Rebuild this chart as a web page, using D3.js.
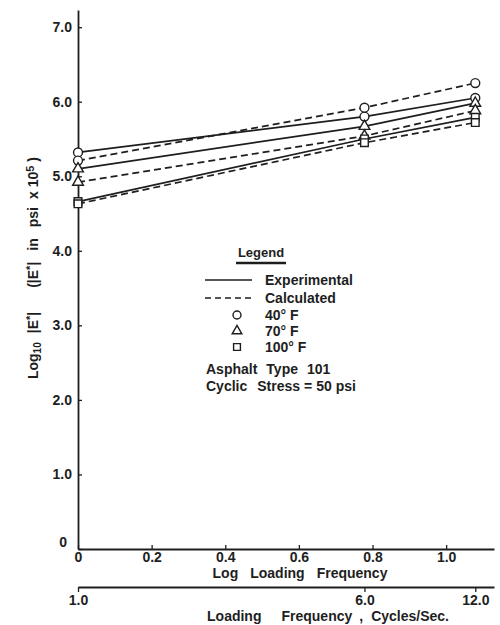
<!DOCTYPE html>
<html><head><meta charset="utf-8">
<script src="https://cdn.jsdelivr.net/npm/d3@7"></script>
<style>
body{margin:0;background:#fff}
text{font-family:"Liberation Sans",Arial,sans-serif;font-weight:bold;fill:#1e1e1e}
</style>
</head><body><svg id="c" width="500" height="625"></svg>
<script>
// Data
const frequencies = [1, 6, 12];               // cycles/sec
const temperatures = ["40°F", "70°F", "100°F"];
const experimental40 = [5.32, 5.80, 6.05];
const experimental70 = [5.10, 5.67, 5.98];
const experimental100 = [4.66, 5.50, 5.79];
const calculated40 = [5.21, 5.92, 6.25];
const calculated70 = [4.92, 5.54, 5.88];
const calculated100 = [4.63, 5.45, 5.72];
const yTicks = [0, 1, 2, 3, 4, 5, 6, 7];
const logTicks = [0, 0.2, 0.4, 0.6, 0.8, 1.0];
const freqTicks = [1, 6, 12];

const series = [
  {temp: temperatures[0], kind: "exp", values: experimental40},
  {temp: temperatures[0], kind: "calc", values: calculated40},
  {temp: temperatures[1], kind: "exp", values: experimental70},
  {temp: temperatures[1], kind: "calc", values: calculated70},
  {temp: temperatures[2], kind: "exp", values: experimental100},
  {temp: temperatures[2], kind: "calc", values: calculated100}
];

const svg = d3.select("#c");
const ink = "#1e1e1e";
const x = d3.scaleLinear().domain([0, 1.13]).range([78, 494]);
const y = d3.scaleLinear().domain([0, 7.23]).range([549, 10]);
const f = d3.scaleLog().domain([1, Math.pow(10, 1.13)]).range([78, 494]);

function styleAxis(g, w) {
  g.selectAll("path.domain").attr("stroke", ink).attr("stroke-width", w);
  g.selectAll(".tick line").attr("stroke", ink).attr("stroke-width", 1.3);
  g.selectAll(".tick text").attr("fill", ink).style("font-size", "14px")
    .style("font-family", '"Liberation Sans",Arial,sans-serif').style("font-weight", "bold");
}

// Y axis
const gy = svg.append("g").attr("transform", "translate(78,0)")
  .call(d3.axisLeft(y).tickValues(yTicks).tickSizeInner(-4).tickSizeOuter(0).tickPadding(6)
    .tickFormat(d => d === 0 ? "0" : d.toFixed(1)));
styleAxis(gy, 1.8);
gy.selectAll(".tick text").filter(d => d === 0).attr("dy", "-0.15em").attr("x", -11);

// X axis (log frequency)
const gx = svg.append("g").attr("transform", "translate(0,549)")
  .call(d3.axisBottom(x).tickValues(logTicks).tickSizeInner(-4).tickSizeOuter(0).tickPadding(3)
    .tickFormat(d => d === 0 ? "0" : d.toFixed(1)));
styleAxis(gx, 1.8);

// Second x axis (frequency)
const gf = svg.append("g").attr("transform", "translate(0,587)")
  .call(d3.axisBottom(f).tickValues(freqTicks).tickSizeInner(5).tickSizeOuter(0).tickPadding(3)
    .tickFormat(d => d.toFixed(1)));
styleAxis(gf, 1.8);

// Lines
const line = d3.line().x((d, i) => x(Math.log10(frequencies[i]))).y(d => y(d));
svg.append("g").selectAll("path").data(series).join("path")
  .attr("d", d => line(d.values))
  .attr("fill", "none").attr("stroke", ink).attr("stroke-width", 1.7)
  .attr("stroke-dasharray", d => d.kind === "calc" ? "7,4" : null);

// Markers
const symbolFor = {"40°F": d3.symbolCircle, "70°F": d3.symbolTriangle, "100°F": d3.symbolSquare};
const sizeFor = {"40°F": 62, "70°F": 50, "100°F": 58};
const pts = series.flatMap(s => s.values.map((v, i) => ({temp: s.temp, f: frequencies[i], v})));
svg.append("g").selectAll("path").data(pts).join("path")
  .attr("transform", d => `translate(${x(Math.log10(d.f))},${y(d.v)})`)
  .attr("d", d => d3.symbol().type(symbolFor[d.temp]).size(sizeFor[d.temp])())
  .attr("fill", "#fff").attr("stroke", ink).attr("stroke-width", 1.4);

// Axis titles
const xt = svg.append("text").attr("x", 300).attr("y", 578).attr("text-anchor", "middle").style("font-size", "14px");
xt.append("tspan").text("Log");
xt.append("tspan").attr("dx", 12).text("Loading");
xt.append("tspan").attr("dx", 12).text("Frequency");

const ft = svg.append("text").attr("x", 328).attr("y", 621).attr("text-anchor", "middle").style("font-size", "14px");
ft.append("tspan").text("Loading");
ft.append("tspan").attr("dx", 20).text("Frequency");
ft.append("tspan").attr("dx", 8).text(",");
ft.append("tspan").attr("dx", 8).text("Cycles/Sec.");

const yt = svg.append("text").attr("transform", "translate(38,268) rotate(-90)")
  .attr("text-anchor", "middle").style("font-size", "14px");
yt.append("tspan").text("Log");
yt.append("tspan").attr("baseline-shift", "-25%").style("font-size", "10px").text("10");
yt.append("tspan").attr("dx", 9).text("|E");
yt.append("tspan").attr("baseline-shift", "35%").style("font-size", "11px").text("*");
yt.append("tspan").text("|");
yt.append("tspan").attr("dx", 24).text("(|E");
yt.append("tspan").attr("baseline-shift", "35%").style("font-size", "11px").text("*");
yt.append("tspan").text("|");
yt.append("tspan").attr("dx", 11).text("in");
yt.append("tspan").attr("dx", 11).text("psi");
yt.append("tspan").attr("dx", 8).text("x 10");
yt.append("tspan").attr("baseline-shift", "40%").style("font-size", "11px").text("5");
yt.append("tspan").attr("dx", 4).text(")");

// Legend
const lg = svg.append("g");
lg.append("text").attr("x", 261).attr("y", 257).attr("text-anchor", "middle").style("font-size", "13px").text("Legend");
lg.append("line").attr("x1", 236).attr("x2", 286).attr("y1", 263).attr("y2", 263).attr("stroke", ink).attr("stroke-width", 2.5);
const lineRows = [{label: "Experimental", dash: null, yy: 280}, {label: "Calculated", dash: "6,4", yy: 298}];
lineRows.forEach(r => {
  lg.append("line").attr("x1", 205).attr("x2", 252).attr("y1", r.yy).attr("y2", r.yy)
    .attr("stroke", ink).attr("stroke-width", 1.6).attr("stroke-dasharray", r.dash);
  lg.append("text").attr("x", 265).attr("y", r.yy + 5).style("font-size", "14px").text(r.label);
});
temperatures.forEach((t, i) => {
  const yy = 315 + i * 16;
  lg.append("path").attr("transform", `translate(237,${yy})`)
    .attr("d", d3.symbol().type(symbolFor[t]).size(sizeFor[t] * 0.8)())
    .attr("fill", "#fff").attr("stroke", ink).attr("stroke-width", 1.4);
  lg.append("text").attr("x", 265).attr("y", yy + 5).style("font-size", "14px").text(t.replace("°F", "° F"));
});
const a1 = lg.append("text").attr("x", 206).attr("y", 374).style("font-size", "14px");
a1.append("tspan").text("Asphalt");
a1.append("tspan").attr("dx", 9).text("Type");
a1.append("tspan").attr("dx", 9).text("101");
const a2 = lg.append("text").attr("x", 206).attr("y", 391).style("font-size", "14px");
a2.append("tspan").text("Cyclic");
a2.append("tspan").attr("dx", 10).text("Stress");
a2.append("tspan").attr("dx", 4).text("=");
a2.append("tspan").attr("dx", 4).text("50 psi");
</script></body></html>
